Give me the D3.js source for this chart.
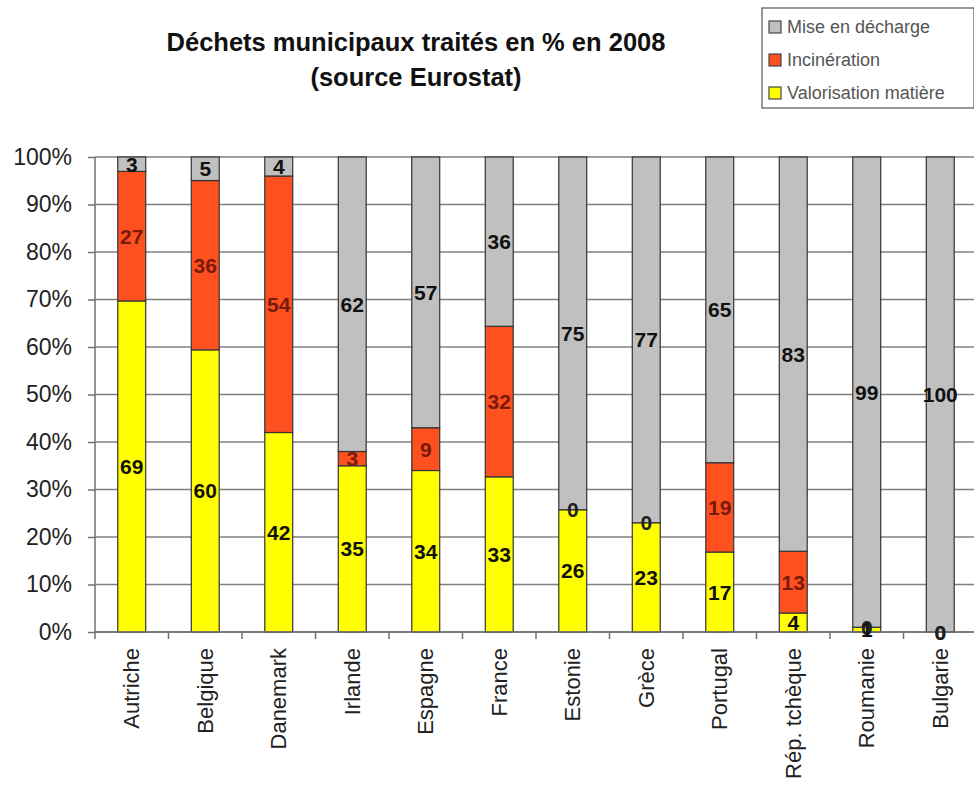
<!DOCTYPE html>
<html lang="fr">
<head>
    <meta charset="utf-8">
    <title>Déchets municipaux traités en % en 2008</title>
    <script src="https://d3js.org/d3.v7.min.js"></script>
    <style>
        body {
            margin: 0;
            padding: 0;
            background-color: #ffffff;
            font-family: Arial, "Liberation Sans", sans-serif;
        }

        .grid line {
            stroke: #808080;
            stroke-width: 1.5px;
        }

        .axis path,
        .axis line {
            stroke: #707070;
            stroke-width: 1.5px;
        }

        .axis text {
            fill: #222;
        }

        .bar rect {
            stroke: #333;
            stroke-width: 1.2px;
        }

        .label {
            font-weight: bold;
            font-size: 21px;
            text-anchor: middle;
        }
    </style>
</head>
<body>
<svg id="chart"></svg>
<script>
    const countries = ["Autriche", "Belgique", "Danemark", "Irlande", "Espagne", "France",
        "Estonie", "Grèce", "Portugal", "Rép. tchèque", "Roumanie", "Bulgarie"];
    const valorisation = [69, 60, 42, 35, 34, 33, 26, 23, 17, 4, 1, 0];
    const incineration = [27, 36, 54, 3, 9, 32, 0, 0, 19, 13, 0, 0];
    const decharge = [3, 5, 4, 62, 57, 36, 75, 77, 65, 83, 99, 100];
    const seriesKeys = ["valorisation", "incineration", "decharge"];
    const seriesNames = ["Valorisation matière", "Incinération", "Mise en décharge"];
    const yTicks = [0, 0.1, 0.2, 0.3, 0.4, 0.5, 0.6, 0.7, 0.8, 0.9, 1];
    const titleLines = ["Déchets municipaux traités en % en 2008", "(source Eurostat)"];

    const colors = {
        valorisation: "#ffff00",
        incineration: "#ff5020",
        decharge: "#c0c0c0"
    };
    const labelColors = {
        valorisation: "#111",
        incineration: "#7a1a0a",
        decharge: "#111"
    };

    const width = 974;
    const height = 787;
    const margin = {top: 157, right: -3, bottom: 155, left: 95};

    const svg = d3.select("#chart")
        .attr("width", width)
        .attr("height", height);

    const rows = countries.map((c, i) => ({
        country: c,
        valorisation: valorisation[i],
        incineration: incineration[i],
        decharge: decharge[i]
    }));

    const stacked = d3.stack()
        .keys(seriesKeys)
        .offset(d3.stackOffsetExpand)(rows);

    const x = d3.scaleBand()
        .domain(countries)
        .range([margin.left, width - margin.right])
        .paddingInner(0.62)
        .paddingOuter(0.31);

    const y = d3.scaleLinear()
        .domain([0, 1])
        .range([height - margin.bottom, margin.top]);

    // gridlines
    svg.append("g")
        .attr("class", "grid")
        .selectAll("line")
        .data(yTicks)
        .join("line")
        .attr("x1", margin.left)
        .attr("x2", width)
        .attr("y1", d => y(d))
        .attr("y2", d => y(d));

    // bars
    const layer = svg.append("g")
        .selectAll("g")
        .data(stacked)
        .join("g")
        .attr("class", "bar")
        .attr("fill", d => colors[d.key]);

    layer.selectAll("rect")
        .data(d => d)
        .join("rect")
        .attr("x", d => x(d.data.country))
        .attr("width", x.bandwidth())
        .attr("y", d => y(d[1]))
        .attr("height", d => y(d[0]) - y(d[1]));

    // y axis
    const yAxis = svg.append("g")
        .attr("class", "axis")
        .attr("transform", `translate(${margin.left},0)`)
        .call(d3.axisLeft(y).tickValues(yTicks).tickFormat(d3.format(".0%")).tickSize(7).tickPadding(16));
    yAxis.select(".domain").attr("d", `M0,${y(1)}V${y(0) + 7}`);
    yAxis.selectAll("text")
        .style("font-size", "23px")
        .style("font-family", "Arial, 'Liberation Sans', sans-serif");

    // x axis with ticks between categories
    const xAxis = svg.append("g")
        .attr("class", "axis")
        .attr("transform", `translate(0,${y(0)})`);
    xAxis.append("line")
        .attr("x1", margin.left)
        .attr("x2", width)
        .attr("y1", 0)
        .attr("y2", 0);
    xAxis.selectAll(".sep")
        .data(countries.slice(1))
        .join("line")
        .attr("class", "sep")
        .attr("x1", d => x(d) - x.step() * x.paddingInner() / 2)
        .attr("x2", d => x(d) - x.step() * x.paddingInner() / 2)
        .attr("y1", 0)
        .attr("y2", 7);
    xAxis.selectAll(".cat")
        .data(countries)
        .join("text")
        .attr("class", "cat")
        .attr("transform", d => `translate(${x(d) + x.bandwidth() / 2},16) rotate(-90)`)
        .attr("text-anchor", "end")
        .attr("dy", "0.35em")
        .style("font-size", "22px")
        .text(d => d);

    // value labels, on top of all bars (red first so black zeros sit above)
    const labelOrder = [stacked[1], stacked[0], stacked[2]];
    svg.append("g")
        .selectAll("g")
        .data(labelOrder)
        .join("g")
        .each(function (s) {
            d3.select(this).selectAll("text")
                .data(s)
                .join("text")
                .attr("class", "label")
                .attr("fill", d => d.data[s.key] === 0 ? "#222" : labelColors[s.key])
                .attr("x", d => x(d.data.country) + x.bandwidth() / 2)
                .attr("y", d => (y(d[0]) + y(d[1])) / 2)
                .attr("dy", "0.36em")
                .text(d => d.data[s.key]);
        });

    // title
    svg.append("g")
        .selectAll("text")
        .data(titleLines)
        .join("text")
        .attr("x", 416)
        .attr("y", (d, i) => 51 + i * 35)
        .attr("text-anchor", "middle")
        .style("font-size", "25.5px")
        .style("font-weight", "bold")
        .style("fill", "#111")
        .text(d => d);

    // legend
    const legend = svg.append("g")
        .attr("transform", "translate(762,8)");
    legend.append("rect")
        .attr("width", 212)
        .attr("height", 100)
        .attr("fill", "#fff")
        .attr("stroke", "#555")
        .attr("stroke-width", 1.2);

    const legendKeys = seriesKeys.slice().reverse();
    const legendNames = seriesNames.slice().reverse();
    const item = legend.selectAll(".item")
        .data(legendKeys)
        .join("g")
        .attr("class", "item")
        .attr("transform", (d, i) => `translate(7,${19 + i * 33})`);
    item.append("rect")
        .attr("y", -6)
        .attr("width", 12)
        .attr("height", 12)
        .attr("fill", d => colors[d])
        .attr("stroke", "#444")
        .attr("stroke-width", 1.2);
    item.append("text")
        .attr("x", 18)
        .attr("dy", "0.36em")
        .style("font-size", "18px")
        .style("fill", "#555")
        .text((d, i) => legendNames[i]);
</script>
</body>
</html>
